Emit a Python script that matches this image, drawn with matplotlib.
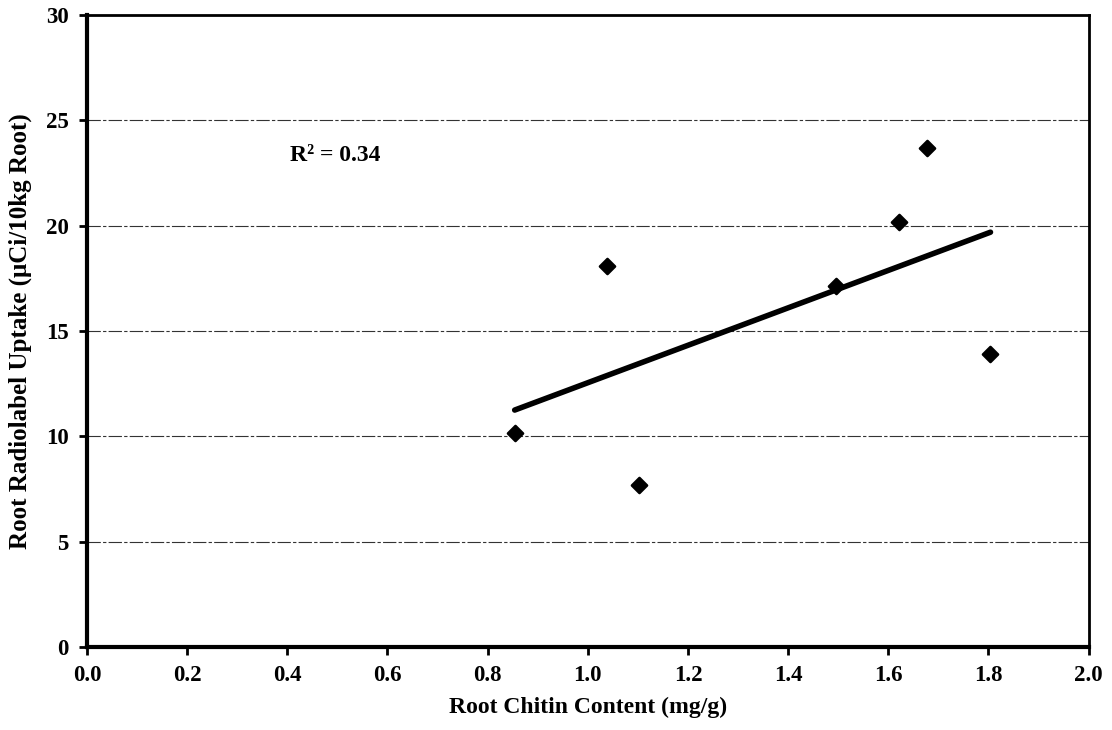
import numpy as np
import matplotlib.pyplot as plt

# ---------------------------------------------------------------------------
# Data
# ---------------------------------------------------------------------------
chitin = [0.854, 1.039, 1.102, 1.495, 1.621, 1.678, 1.804]   # mg/g
uptake = [10.15, 18.1, 7.7, 17.15, 20.15, 23.7, 13.9]        # uCi/10kg root
r2_label = "R² = 0.34"

x_ticks = np.arange(0, 2.01, 0.2)
y_ticks = np.arange(0, 31, 5)

plt.rcParams["font.family"] = ["Liberation Serif", "DejaVu Serif"]

fig = plt.figure(figsize=(11.12, 7.3), dpi=100, facecolor="white")
ax = fig.add_axes([0.0782, 0.1137, 0.9008, 0.8658])

# gridlines
for yv in y_ticks[1:-1]:
    ax.axhline(yv, color="#333333", lw=0.8, ls=(0, (12, 2, 3, 2)), zorder=1)

# data points
ax.scatter(chitin, uptake, marker="D", s=60, color="black", zorder=4,
           edgecolors="black", linewidths=1.8)

# linear trendline
slope, intercept = np.polyfit(chitin, uptake, 1)
xs = np.array([min(chitin), max(chitin)])
ax.plot(xs, slope * xs + intercept, color="black", lw=4, solid_capstyle="round", zorder=3)

ax.text(0.405, 23.35, r2_label, fontsize=17, fontweight="bold", va="center", ha="left")

ax.set_xlim(0, 2.0)
ax.set_ylim(0, 30)
ax.set_xticks(x_ticks)
ax.set_xticklabels([f"{v:.1f}" for v in x_ticks], fontsize=16.5, fontweight="bold")
ax.set_yticks(y_ticks)
ax.set_yticklabels([f"{int(v)}" for v in y_ticks], fontsize=16.5, fontweight="bold")
ax.tick_params(axis="both", direction="out", length=6, width=2, pad=7)

for side in ["left", "bottom"]:
    ax.spines[side].set_linewidth(3)
for side in ["top", "right"]:
    ax.spines[side].set_linewidth(2)

ax.set_xlabel("Root Chitin Content (mg/g)", fontsize=17, fontweight="bold", labelpad=8)
ax.set_ylabel("Root Radiolabel Uptake (μCi/10kg Root)", fontsize=18,
              fontweight="bold", labelpad=10)

fig.savefig("out.png", dpi=100, facecolor="white")
